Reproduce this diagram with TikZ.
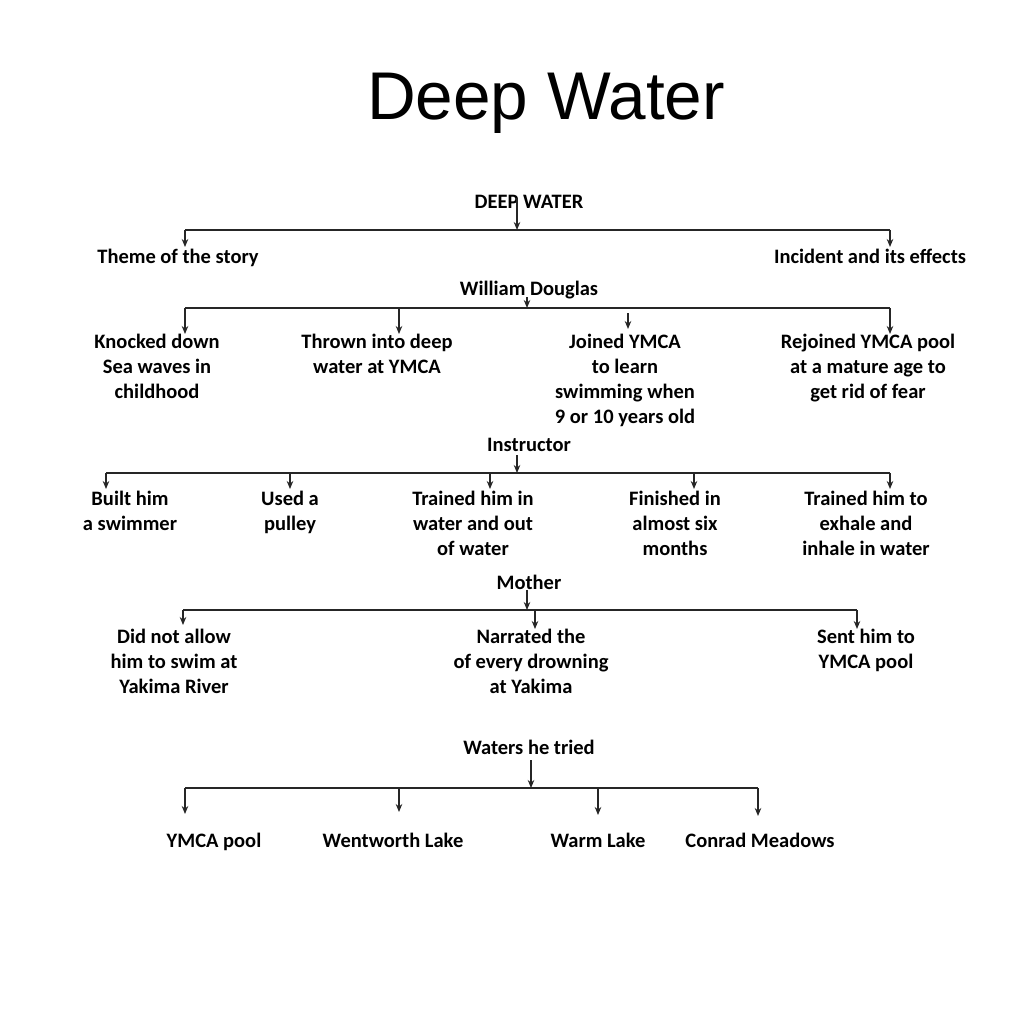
\documentclass[tikz,border=0pt]{standalone}
\usepackage{fontspec}
\setmainfont{Carlito}
\newfontfamily\titlefont{Liberation Sans}
\usetikzlibrary{arrows.meta}
\begin{document}
\begin{tikzpicture}[x=1pt,y=-1pt,
  lbl/.style={font=\bfseries\fontsize{20.5}{25}\selectfont, inner sep=0pt, align=center, anchor=base},
  ttl/.style={font=\titlefont\fontsize{67.5}{80}\selectfont, inner sep=0pt, anchor=base},
  arr/.style={-{Stealth[length=8pt,width=6.5pt]}, line width=1.2pt, draw=black!85},
  bar/.style={line width=1.2pt, draw=black!85}]
\useasboundingbox[fill=white] (0,0) rectangle (1024,1024);

\node[ttl] (title) at (546,120) {Deep Water};

% Level 1 (anchor=base is the baseline of the last line)
\node[lbl] (root) at (529,209) {DEEP WATER};
\node[lbl] (theme) at (178,263) {Theme of the story};
\node[lbl] (incident) at (870,263) {Incident and its effects};
\coordinate (r1) at (517,198);
\coordinate (b1l) at (185,230);
\coordinate (b1m) at (517,230);
\coordinate (b1r) at (890,230);
\coordinate (t1a) at (185,247);
\coordinate (t1b) at (890,247);
\draw[arr] (r1) -- (b1m);
\draw[bar] (b1l) -- (b1r);
\draw[arr] (b1l) -- (t1a);
\draw[arr] (b1r) -- (t1b);

% Level 2
\node[lbl] (wd) at (529,295) {William Douglas};
\node[lbl] (knock) at (157,398) {Knocked down\\Sea waves in\\childhood};
\node[lbl] (thrown) at (377,373) {Thrown into deep\\water at YMCA};
\node[lbl] (joined) at (625,423) {Joined YMCA\\to learn\\swimming when\\9 or 10 years old};
\node[lbl] (rejoin) at (868,398) {Rejoined YMCA pool\\at a mature age to\\get rid of fear};
\coordinate (r2) at (527,297);
\coordinate (b2l) at (185,308);
\coordinate (b2m) at (527,308);
\coordinate (b2r) at (890,308);
\coordinate (b2a) at (399,308);
\coordinate (t2a) at (185,334);
\coordinate (t2b) at (399,334);
\coordinate (s2c) at (628,313);
\coordinate (t2c) at (628,329);
\coordinate (t2d) at (890,334);
\draw[arr] (r2) -- (b2m);
\draw[bar] (b2l) -- (b2r);
\draw[arr] (b2l) -- (t2a);
\draw[arr] (b2a) -- (t2b);
\draw[arr] (s2c) -- (t2c);
\draw[arr] (b2r) -- (t2d);

% Level 3
\node[lbl] (instr) at (529,451) {Instructor};
\node[lbl] (built) at (130,530) {Built him\\a swimmer};
\node[lbl] (used) at (290,530) {Used a\\pulley};
\node[lbl] (trained) at (473,555) {Trained him in\\water and out\\of water};
\node[lbl] (finished) at (675,555) {Finished in\\almost six\\months};
\node[lbl] (exhale) at (866,555) {Trained him to\\exhale and\\inhale in water};
\coordinate (r3) at (517,455);
\coordinate (b3l) at (106,473);
\coordinate (b3m) at (517,473);
\coordinate (b3r) at (890,473);
\coordinate (b3a) at (290,473);
\coordinate (b3b) at (490,473);
\coordinate (b3c) at (694,473);
\coordinate (t3l) at (106,489);
\coordinate (t3a) at (290,489);
\coordinate (t3b) at (490,489);
\coordinate (t3c) at (694,489);
\coordinate (t3r) at (890,489);
\draw[arr] (r3) -- (b3m);
\draw[bar] (b3l) -- (b3r);
\draw[arr] (b3l) -- (t3l);
\draw[arr] (b3a) -- (t3a);
\draw[arr] (b3b) -- (t3b);
\draw[arr] (b3c) -- (t3c);
\draw[arr] (b3r) -- (t3r);

% Level 4
\node[lbl] (mother) at (529,589) {Mother};
\node[lbl] (didnot) at (174,693) {Did not allow\\him to swim at\\Yakima River};
\node[lbl] (narr) at (531,693) {Narrated the\\of every drowning\\at Yakima};
\node[lbl] (sent) at (866,668) {Sent him to\\YMCA pool};
\coordinate (r4) at (527,590);
\coordinate (b4l) at (183,610);
\coordinate (b4m) at (527,610);
\coordinate (b4a) at (535,610);
\coordinate (b4r) at (857,610);
\coordinate (t4l) at (183,625);
\coordinate (t4a) at (535,629);
\coordinate (t4r) at (857,629);
\draw[arr] (r4) -- (b4m);
\draw[bar] (b4l) -- (b4r);
\draw[arr] (b4l) -- (t4l);
\draw[arr] (b4a) -- (t4a);
\draw[arr] (b4r) -- (t4r);

% Level 5
\node[lbl] (waters) at (529,754) {Waters he tried};
\node[lbl] (ymca) at (214,847) {YMCA pool};
\node[lbl] (went) at (393,847) {Wentworth Lake};
\node[lbl] (warm) at (598,847) {Warm Lake};
\node[lbl] (conrad) at (760,847) {Conrad Meadows};
\coordinate (r5) at (531,760);
\coordinate (b5l) at (185,788);
\coordinate (b5m) at (531,788);
\coordinate (b5a) at (399,788);
\coordinate (b5b) at (598,788);
\coordinate (b5r) at (758,788);
\coordinate (t5l) at (185,814);
\coordinate (t5a) at (399,812);
\coordinate (t5b) at (598,815);
\coordinate (t5r) at (758,816);
\draw[arr] (r5) -- (b5m);
\draw[bar] (b5l) -- (b5r);
\draw[arr] (b5l) -- (t5l);
\draw[arr] (b5a) -- (t5a);
\draw[arr] (b5b) -- (t5b);
\draw[arr] (b5r) -- (t5r);
\end{tikzpicture}
\end{document}
